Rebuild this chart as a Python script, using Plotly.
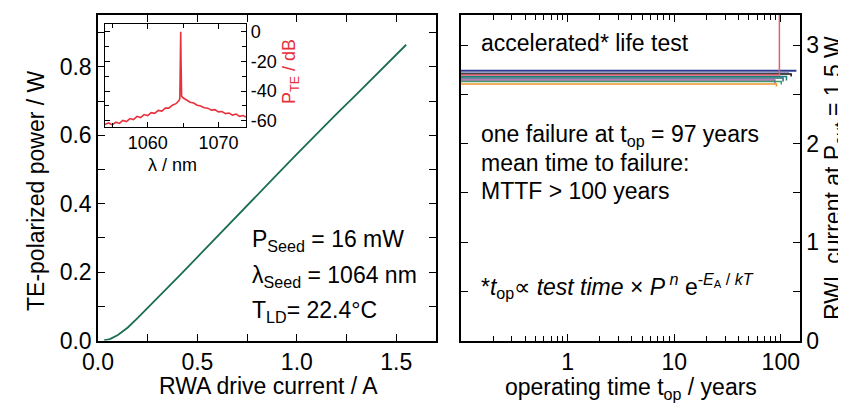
import plotly.graph_objects as go

# ---------------- data ----------------
# Left panel: TE-polarized power vs RWA drive current
rwa_current_A = [0.03, 0.06, 0.10, 0.15, 0.20, 0.30, 0.40, 0.50, 0.60, 0.70, 0.80, 0.90,
                 1.00, 1.10, 1.20, 1.30, 1.40, 1.50, 1.55]
te_power_W = [0.0, 0.004, 0.016, 0.038, 0.066, 0.124, 0.184, 0.244, 0.305, 0.365, 0.425,
              0.485, 0.545, 0.605, 0.663, 0.720, 0.777, 0.835, 0.865]

# Inset: optical spectrum
wavelength_nm = [1053.9, 1054.5, 1055.0, 1055.5, 1056.0, 1056.5, 1057.0, 1057.5, 1058.0, 1058.5,
                 1059.0, 1059.5, 1060.0, 1060.5, 1061.0, 1061.5, 1062.0, 1062.5, 1063.0, 1063.5,
                 1064.0, 1064.4, 1064.55, 1064.62, 1064.67, 1064.72, 1064.8, 1065.0, 1065.5,
                 1066.0, 1066.5, 1067.0, 1067.5, 1068.0, 1068.5, 1069.0, 1069.5, 1070.0, 1070.5,
                 1071.0, 1071.5, 1072.0, 1072.5, 1073.0, 1073.5, 1073.9]
p_te_dB = [-62.5, -61.5, -62.8, -61.0, -61.8, -59.8, -60.5, -58.5, -59.2, -57.0,
           -57.8, -55.8, -56.5, -54.5, -55.0, -53.0, -53.5, -51.5, -51.5, -49.5,
           -48.5, -46.5, -45.0, -20.0, 0.0, -20.0, -43.5, -44.5, -46.0,
           -47.5, -48.0, -49.5, -50.0, -51.2, -51.5, -52.8, -52.5, -54.0, -53.8,
           -55.2, -54.8, -56.2, -55.5, -57.0, -56.5, -57.5]

# Right panel: life test, RWL current at 1.5 W vs operating time
device_names = ["D1", "D2", "D3", "D4", "D5", "D6", "D7", "D8", "D9"]
device_colors = ["#2d3a8c", "#9a9ac8", "#111111", "#1b7f7f", "#2a6a78", "#9b4f9e",
                 "#3d9a6a", "#f0952e", "#e0606c"]
device_t_years = [[0.1, 140], [0.1, 120], [0.1, 125, 125], [0.1, 113, 113],
                  [0.1, 105, 105], [0.1, 88, 88], [0.1, 101, 101], [0.1, 91, 91],
                  [0.1, 97, 97]]
device_current_A = [[2.74, 2.74], [2.72, 2.72], [2.705, 2.705, 2.68], [2.68, 2.68, 2.64],
                    [2.665, 2.665, 2.63], [2.645, 2.645, 2.61], [2.63, 2.63, 2.60],
                    [2.605, 2.605, 2.58], [2.695, 2.695, 3.6]]

# ---------------- layout helpers ----------------
OFF = 8  # page body margin
W, H = 846 - OFF, 403 - OFF
def px(x):
    return (x - OFF) / W
def py(y):
    return 1 - (y - OFF) / H

FONT = "Liberation Sans, Arial, sans-serif"
GREEN = "#1b6e52"
RED = "#e8303c"
FS = 23
FS_IN = 18

fig = go.Figure()

fig.add_trace(go.Scatter(x=rwa_current_A, y=te_power_W, mode="lines",
                         line=dict(color=GREEN, width=1.8), xaxis="x", yaxis="y",
                         showlegend=False))

fig.add_trace(go.Scatter(x=wavelength_nm, y=p_te_dB, mode="lines",
                         line=dict(color=RED, width=1.6), xaxis="x3", yaxis="y3",
                         showlegend=False))

for name, col, tx, cy in zip(device_names, device_colors, device_t_years, device_current_A):
    fig.add_trace(go.Scatter(x=tx, y=cy, mode="lines", name=name,
                             line=dict(color=col, width=1.5 if name != "D1" else 2.0),
                             xaxis="x2", yaxis="y2", showlegend=False))

axis_common = dict(showline=True, linecolor="black", linewidth=1.5, mirror="ticks",
                   ticks="inside", ticklen=7, tickwidth=1.3, tickcolor="black",
                   showgrid=False, zeroline=False,
                   tickfont=dict(family=FONT, size=FS, color="black"))

fig.update_layout(
    width=W, height=H,
    margin=dict(l=0, r=0, t=0, b=0, autoexpand=False),
    paper_bgcolor="white", plot_bgcolor="white",
    font=dict(family=FONT, size=FS, color="black"),
    xaxis=dict(axis_common, domain=[px(98), px(436)], range=[0, 1.70], anchor="y",
               tickvals=[0, 0.5, 1.0, 1.5], ticktext=["0.0", "0.5", "1.0", "1.5"],
               minor=dict(ticks="inside", ticklen=7, tickcolor="black", dtick=0.25, tick0=0)),
    yaxis=dict(axis_common, domain=[py(340.5), py(15)], range=[0, 0.952], anchor="x",
               tickvals=[0, 0.2, 0.4, 0.6, 0.8], ticktext=["0.0", "0.2", "0.4", "0.6", "0.8"],
               minor=dict(ticks="inside", ticklen=7, tickcolor="black", dtick=0.1, tick0=0)),
    xaxis2=dict(axis_common, domain=[px(461), px(800)], type="log", range=[-1.0, 2.18],
                anchor="y2", tickvals=[1, 10, 100], ticktext=["1", "10", "100"],
                minor=dict(ticks="inside", ticklen=5, tickcolor="black",
                           tickvals=[0.2, 0.3, 0.4, 0.5, 0.6, 0.7, 0.8, 0.9,
                                     2, 3, 4, 5, 6, 7, 8, 9,
                                     20, 30, 40, 50, 60, 70, 80, 90])),
    yaxis2=dict(axis_common, domain=[py(340.5), py(15)], range=[0, 3.305], anchor="x2",
                side="right", tickvals=[0, 1, 2, 3],
                minor=dict(ticks="inside", ticklen=7, tickcolor="black", dtick=0.5, tick0=0)),
    xaxis3=dict(axis_common, domain=[px(104.5), px(246)], range=[1053.9, 1073.9], anchor="y3",
                linewidth=1.3, tickvals=[1060, 1070], ticklen=5,
                tickfont=dict(family=FONT, size=FS_IN, color="black"),
                minor=dict(ticks="inside", ticklen=4, tickcolor="black", dtick=5, tick0=1055)),
    yaxis3=dict(axis_common, domain=[py(126.7), py(24)], range=[-64, 5.2], anchor="x3",
                linewidth=1.3, side="right", tickvals=[0, -20, -40, -60],
                ticktext=["0", "-20", "-40", "-60"], ticklen=5,
                tickfont=dict(family=FONT, size=FS_IN, color="black"),
                minor=dict(ticks="inside", ticklen=4, tickcolor="black", dtick=10, tick0=0)),
)

def ann(text, x, y, xanchor="center", yanchor="middle", size=FS, color="black", angle=0):
    fig.add_annotation(text=text, x=px(x), y=py(y), xref="paper", yref="paper",
                       xanchor=xanchor, yanchor=yanchor, showarrow=False, textangle=angle,
                       font=dict(family=FONT, size=size, color=color))

# axis titles
ann("TE-polarized power / W", 36, 191, angle=-90)
ann("RWA drive current / A", 268, 386)
ann("operating time t<sub>op</sub> / years", 631, 388)
ann("RWL current at P<sub>out</sub> = 1.5 W", 834, 178, angle=-90)
ann("λ / nm", 172, 165, size=FS_IN)
ann("P<sub>TE</sub> / dB", 291, 72, size=FS_IN, color=RED, angle=-90)

# left text
ann("P<sub>Seed</sub> = 16 mW", 250, 240, xanchor="left")
ann("λ<sub>Seed</sub> = 1064 nm", 250, 276, xanchor="left")
ann("T<sub>LD</sub>= 22.4°C", 250, 311, xanchor="left")

# right text
ann("accelerated* life test", 479, 43, xanchor="left")
ann("one failure at t<sub>op</sub> = 97 years", 479, 136, xanchor="left")
ann("mean time to failure:", 479, 163, xanchor="left")
ann("MTTF &gt; 100 years", 479, 191, xanchor="left")
ann("*<i>t</i><sub>op</sub>∝ <i>test time</i> × <i>P</i><sup> <i>n</i></sup> e<sup>-<i>E</i><sub>A</sub> / <i>kT</i></sup>",
    479, 286, xanchor="left")

fig.write_html("out.html")
